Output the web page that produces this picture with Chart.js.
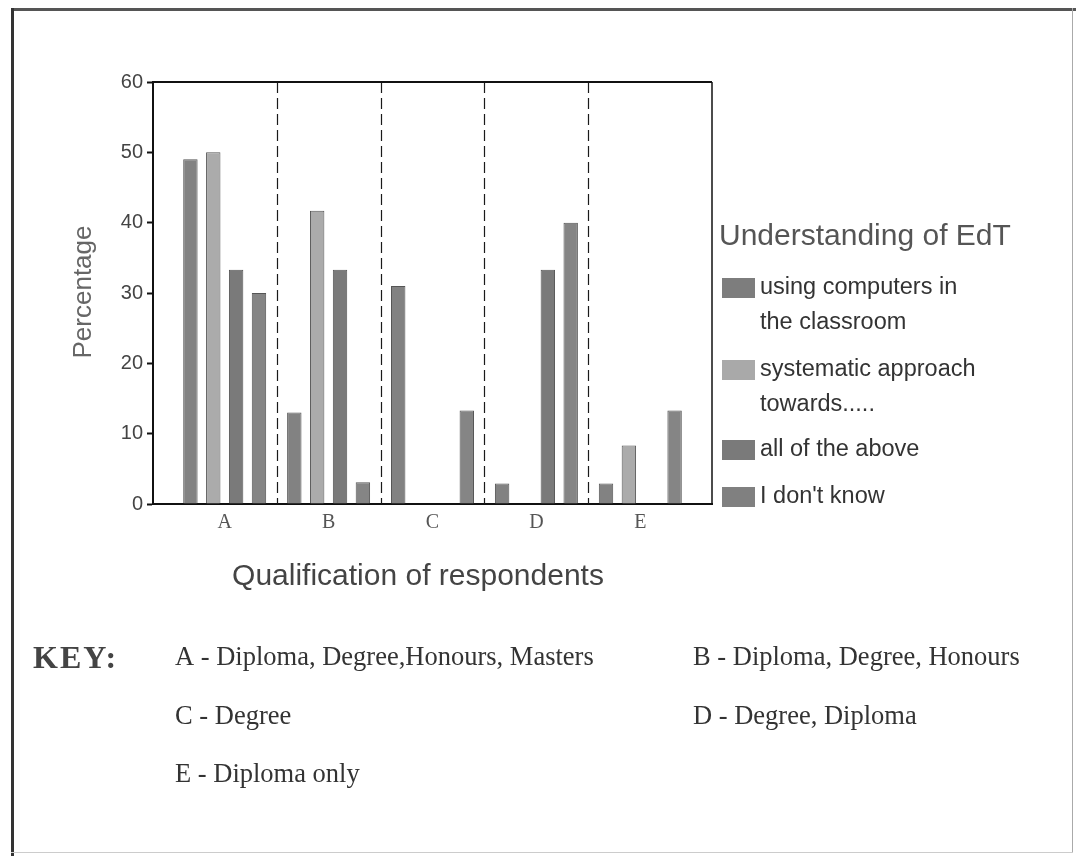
<!DOCTYPE html>
<html>
<head>
<meta charset="utf-8">
<script src="https://cdn.jsdelivr.net/npm/chart.js@4.4.0/dist/chart.umd.min.js"></script>
<style>
html,body{margin:0;padding:0;background:#fff;}
#wrap{position:relative;width:1076px;height:860px;overflow:hidden;background:#fff;}
#c{position:absolute;left:0;top:0;}
.ln{position:absolute;}
</style>
</head>
<body>
<div id="wrap">
<canvas id="c" width="1076" height="860"></canvas>
<div class="ln" style="left:11px;top:8px;width:1065px;height:3px;background:#555;"></div>
<div class="ln" style="left:11px;top:8px;width:3px;height:848px;background:#333;"></div>
<div class="ln" style="left:1072px;top:8px;width:1px;height:845px;background:#aaa;"></div>
<div class="ln" style="left:11px;top:852px;width:1062px;height:1px;background:#ccc;"></div>
</div>
<script>
// ---- data ----
const categories = ['A', 'B', 'C', 'D', 'E'];
const seriesNames = ['using computers in the classroom', 'systematic approach towards.....', 'all of the above', "I don't know"];
const legendLines = [['using computers in', 'the classroom'], ['systematic approach', 'towards.....'], ['all of the above'], ["I don't know"]];
const usingComputers     = [49,   13,   31,   2.9,  2.9];
const systematicApproach = [50,   41.7, 0,    0,    8.3];
const allOfTheAbove      = [33.3, 33.3, 0,    33.3, 0];
const dontKnow           = [30,   3.1,  13.3, 40,   13.3];
const yTicks = [0, 10, 20, 30, 40, 50, 60];
const legendTitle = 'Understanding of EdT';
const yTitle = 'Percentage';
const xTitle = 'Qualification of respondents';
const keyTitle = 'KEY:';
const keyEntries = ['A - Diploma, Degree,Honours, Masters', 'B - Diploma, Degree, Honours', 'C - Degree', 'D - Degree, Diploma', 'E - Diploma only'];

const seriesValues = [usingComputers, systematicApproach, allOfTheAbove, dontKnow];
const fills = ['#828282', '#ababab', '#7a7a7a', '#858585'];
const swatch = ['#7d7d7d', '#a9a9a9', '#7a7a7a', '#808080'];

const decorations = {
  id: 'decorations',
  beforeDatasetsDraw(chart) {
    const ctx = chart.ctx, a = chart.chartArea, x = chart.scales.x;
    ctx.save();
    ctx.strokeStyle = '#1a1a1a';
    ctx.lineWidth = 1.2;
    ctx.setLineDash([11, 5]);
    for (let i = 0; i < categories.length - 1; i++) {
      const px = Math.round(x.getPixelForValue(i + 0.5)) + 0.5;
      ctx.beginPath(); ctx.moveTo(px, a.top); ctx.lineTo(px, a.bottom); ctx.stroke();
    }
    ctx.restore();
  },
  afterDraw(chart) {
    const ctx = chart.ctx, a = chart.chartArea;
    ctx.save();
    ctx.strokeStyle = '#111';
    ctx.lineWidth = 2;
    ctx.beginPath(); ctx.moveTo(a.left, a.top); ctx.lineTo(a.right, a.top); ctx.stroke();
    ctx.lineWidth = 1.5;
    ctx.beginPath(); ctx.moveTo(a.right, a.top); ctx.lineTo(a.right, a.bottom); ctx.stroke();

    // axis titles
    ctx.fillStyle = '#666';
    ctx.font = '26px "Liberation Sans", Arial, sans-serif';
    ctx.textAlign = 'center'; ctx.textBaseline = 'middle';
    ctx.save(); ctx.translate(84, 292); ctx.rotate(-Math.PI / 2); ctx.fillText(yTitle, 0, 0); ctx.restore();
    ctx.fillStyle = '#444';
    ctx.font = '30px "Liberation Sans", Arial, sans-serif';
    ctx.fillText(xTitle, 418, 577);

    // legend
    ctx.textAlign = 'left';
    ctx.fillStyle = '#555';
    ctx.font = '30px "Liberation Sans", Arial, sans-serif';
    ctx.fillText(legendTitle, 719, 237);
    const rows = [288, 370, 450, 497];
    ctx.font = '23.5px "Liberation Sans", Arial, sans-serif';
    chart.data.datasets.forEach((ds, k) => {
      const cy = rows[k];
      ctx.fillStyle = swatch[k];
      ctx.fillRect(722, cy - 10, 33, 20);
      ctx.fillStyle = '#333';
      legendLines[k].forEach((t, j) => ctx.fillText(t, 760, cy + j * 35));
    });

    // key
    ctx.fillStyle = '#444';
    ctx.font = 'bold 32px "Liberation Serif", "Times New Roman", serif';
    ctx.letterSpacing = '2px';
    ctx.fillText(keyTitle, 33, 660);
    ctx.letterSpacing = '0px';
    ctx.fillStyle = '#333';
    ctx.font = '26.5px "Liberation Serif", "Times New Roman", serif';
    const pos = [[175, 658], [693, 658], [175, 717], [693, 717], [175, 775]];
    keyEntries.forEach((t, i) => ctx.fillText(t, pos[i][0], pos[i][1]));
    ctx.restore();
  }
};

new Chart(document.getElementById('c'), {
  type: 'bar',
  data: {
    datasets: seriesValues.map((vals, k) => ({
      label: seriesNames[k],
      data: vals.map((v, i) => ({ x: i, y: v })),
      backgroundColor: fills[k],
      borderColor: '#555',
      borderWidth: 1,
      categoryPercentage: 0.88,
      barPercentage: 0.63
    }))
  },
  options: {
    responsive: false,
    animation: false,
    devicePixelRatio: 1,
    layout: { padding: { left: 0, top: 82, right: 364, bottom: 316 } },
    scales: {
      x: {
        type: 'linear', min: -0.69, max: 4.69, offset: false,
        afterBuildTicks: s => { s.ticks = categories.map((c, i) => ({ value: i })); },
        afterFit: s => { s.height = 40; },
        ticks: { callback: v => categories[v], font: { family: '"Liberation Serif", serif', size: 20 }, color: '#555', padding: 7, autoSkip: false, maxRotation: 0 },
        grid: { display: false, drawTicks: false },
        border: { color: '#111', width: 2 }
      },
      y: {
        min: 0, max: 60,
        afterBuildTicks: s => { s.ticks = yTicks.map(v => ({ value: v })); },
        afterFit: s => { s.width = 153; },
        ticks: { font: { family: '"Liberation Sans", Arial, sans-serif', size: 20 }, color: '#444', padding: 4 },
        grid: { drawOnChartArea: false, tickLength: 6, color: '#111', tickWidth: 2 },
        border: { color: '#111', width: 2 }
      }
    },
    plugins: { legend: { display: false }, tooltip: { enabled: false } }
  },
  plugins: [decorations]
});
</script>
</body>
</html>
